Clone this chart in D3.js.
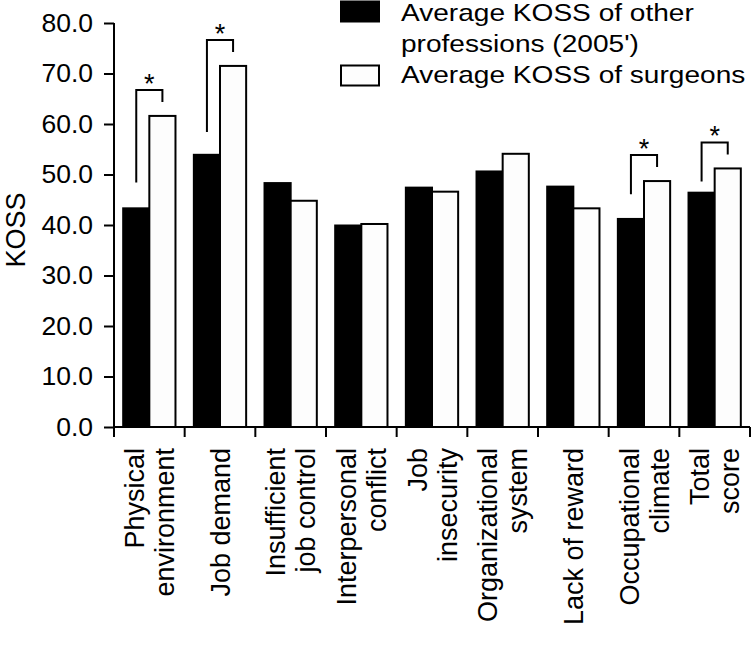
<!DOCTYPE html>
<html>
<head>
<meta charset="utf-8">
<script src="https://cdn.jsdelivr.net/npm/d3@7"></script>
<style>
  body { margin: 0; background: #fff; }
  text { font-family: "Liberation Sans", Arial, Helvetica, sans-serif; fill: #000; }
</style>
</head>
<body>
<svg id="chart" width="754" height="649"></svg>
<script>
const categories = ["Physical environment", "Job demand", "Insufficient job control", "Interpersonal conflict",
    "Job insecurity", "Organizational system", "Lack of reward", "Occupational climate", "Total score"];
const labelLines = [["Physical", "environment"], ["Job demand"], ["Insufficient", "job control"], ["Interpersonal", "conflict"],
    ["Job", "insecurity"], ["Organizational", "system"], ["Lack of reward"], ["Occupational", "climate"], ["Total", "score"]];
const otherValues = [43.3, 53.9, 48.3, 39.9, 47.4, 50.6, 47.6, 41.2, 46.4];
const surgeonValues = [61.6, 71.5, 44.8, 40.2, 46.6, 54.1, 43.3, 48.7, 51.2];
const seriesNames = ["Average KOSS of other professions (2005')", "Average KOSS of surgeons"];
const legendLines = [["Average KOSS of other", "professions (2005')"], ["Average KOSS of surgeons"]];
// significant pairs and where the left leg of each bracket starts
const sigCategories = ["Physical environment", "Job demand", "Occupational climate", "Total score"];
const sigBase = [48.4, 58.4, 46.1, 48.6];
const yTicks = [0, 10, 20, 30, 40, 50, 60, 70, 80];

const svg = d3.select("#chart");
const plotLeft = 114, plotRight = 750, plotTop = 23, plotBottom = 427;

const x = d3.scaleBand().domain(categories).range([plotLeft, plotRight]).paddingInner(0.26).paddingOuter(0.13);
const xs = d3.scaleBand().domain([0, 1]).range([0, x.bandwidth()]);
const y = d3.scaleLinear().domain([0, 80]).range([plotBottom, plotTop]);

// bars
const groups = svg.append("g").selectAll("g")
    .data(categories)
    .enter().append("g")
    .attr("transform", d => `translate(${x(d)},0)`);

groups.selectAll("rect")
    .data((d, i) => [otherValues[i], surgeonValues[i]])
    .enter().append("rect")
    .attr("x", (d, j) => xs(j))
    .attr("y", d => y(d))
    .attr("width", xs.bandwidth())
    .attr("height", d => y(0) - y(d))
    .attr("fill", (d, j) => j === 0 ? "#000" : "#fdfdfd")
    .attr("stroke", "#000")
    .attr("stroke-width", 2);

// significance brackets
sigCategories.forEach((c, k) => {
    const i = categories.indexOf(c);
    const x1 = x(c) + xs(0) + xs.bandwidth() / 2;
    const x2 = x(c) + xs(1) + xs.bandwidth() / 2;
    const yTop = y(surgeonValues[i]) - 26;
    svg.append("path")
        .attr("d", `M${x1},${y(sigBase[k])}V${yTop}H${x2}V${y(surgeonValues[i]) - 14}`)
        .attr("fill", "none")
        .attr("stroke", "#000")
        .attr("stroke-width", 2);
    svg.append("text")
        .attr("x", (x1 + x2) / 2)
        .attr("y", yTop + 3)
        .attr("text-anchor", "middle")
        .style("font-size", "27px")
        .text("*");
});

// y axis
const yAxis = svg.append("g")
    .attr("transform", `translate(${plotLeft},0)`)
    .call(d3.axisLeft(y).tickValues(yTicks).tickFormat(d3.format(".1f")).tickSize(10).tickPadding(11));
yAxis.select(".domain").attr("d", `M0,${plotTop}V${plotBottom}`).attr("stroke-width", 2);
yAxis.selectAll(".tick line").attr("stroke-width", 2);
yAxis.selectAll(".tick text").style("font-size", "26.5px");
yAxis.attr("font-family", null);

// x axis: ticks on group boundaries
const xAxis = svg.append("g").attr("transform", `translate(0,${plotBottom})`);
const bounds = categories.map(c => x(c) - x.step() * 0.13).concat([plotRight]);
xAxis.append("path").attr("d", `M${plotLeft},0H${plotRight}`).attr("stroke", "#000").attr("stroke-width", 2);
xAxis.selectAll("line.tk")
    .data(bounds)
    .enter().append("line")
    .attr("class", "tk")
    .attr("x1", d => d).attr("x2", d => d)
    .attr("y1", 0).attr("y2", 10)
    .attr("stroke", "#000").attr("stroke-width", 2);

categories.forEach((c, i) => {
    const cx = x(c) + x.bandwidth() / 2;
    const lines = labelLines[i];
    lines.forEach((line, j) => {
        const bx = cx + 9.5 + (j - (lines.length - 1) / 2) * 30;
        svg.append("text")
            .attr("transform", `translate(${bx},448) rotate(-90)`)
            .attr("text-anchor", "end")
            .style("font-size", "27px")
            .text(line);
    });
});

// y title
svg.append("text")
    .attr("transform", "translate(25,230) rotate(-90)")
    .attr("text-anchor", "middle")
    .style("font-size", "27px")
    .text("KOSS");

// legend
const legend = svg.append("g");
seriesNames.forEach((s, i) => {
    legend.append("rect")
        .attr("x", 341).attr("y", i === 0 ? 1.5 : 65.5)
        .attr("width", 38).attr("height", 20)
        .attr("fill", i === 0 ? "#000" : "#fdfdfd")
        .attr("stroke", "#000").attr("stroke-width", 2);
});
let lineNo = 0;
legendLines.forEach(lines => {
    lines.forEach(t => {
        legend.append("g")
            .attr("transform", `translate(401,${21 + lineNo * 31}) scale(1.17,1)`)
            .append("text")
            .style("font-size", "24px")
            .text(t);
        lineNo++;
    });
});
</script>
</body>
</html>
